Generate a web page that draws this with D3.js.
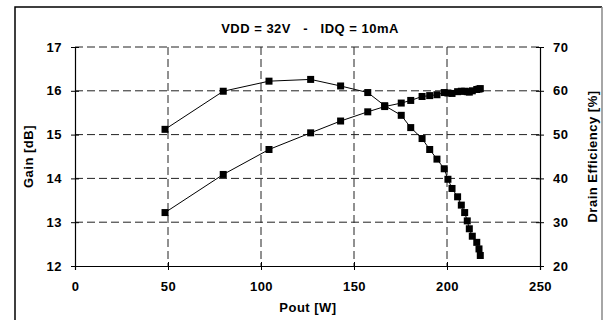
<!DOCTYPE html>
<html><head><meta charset="utf-8">
<script src="https://cdn.jsdelivr.net/npm/d3@7"></script>
<style>body{margin:0;background:#fff}svg{display:block;font-family:Arial,"Liberation Sans",sans-serif}</style>
</head><body><svg id="c" width="604" height="320"></svg>
<script>
const title = "VDD = 32V   -   IDQ = 10mA";
const pout = [48.4,79.7,104.3,126.7,142.8,157.4,166.5,175.4,180.5,186.6,190.7,194.6,198.5,200.5,202.7,205.7,207.7,209.5,210.9,212,213.6,216,217.2,217.9];
const gain = [15.12,15.99,16.22,16.26,16.11,15.96,15.66,15.44,15.16,14.91,14.66,14.44,14.22,13.98,13.77,13.58,13.39,13.22,13.03,12.85,12.68,12.54,12.39,12.24];
const eff = [32.2,40.9,46.6,50.4,53.1,55.2,56.4,57.2,57.8,58.7,58.9,59.1,59.6,59.5,59.4,59.8,59.9,59.9,59.8,59.7,60.0,60.3,60.4,60.5];
const xTicks = [0,50,100,150,200,250];
const gainTicks = [12,13,14,15,16,17];
const effTicks = [20,30,40,50,60,70];

const svg = d3.select("#c");
const L=75,R=540,T=47,B=266;
const FS=13, LS="0.5px";
const x = d3.scaleLinear().domain([0,250]).range([L,R]);
const yL = d3.scaleLinear().domain([12,17]).range([B,T]);
const yR = d3.scaleLinear().domain([20,70]).range([B,T]);

// border
svg.append("path").attr("d",`M15,330V7H602`).attr("fill","none").attr("stroke","#000").attr("stroke-width",1.5);
svg.append("line").attr("x1",602).attr("x2",602).attr("y1",7).attr("y2",330).attr("stroke","#888").attr("stroke-width",1.5);

// gridlines
const g = svg.append("g").attr("stroke","#222").attr("stroke-dasharray","8,4").attr("stroke-width",1);
gainTicks.slice(1).forEach(v=>g.append("line").attr("x1",L).attr("x2",R).attr("y1",yL(v)).attr("y2",yL(v)));
xTicks.slice(1,-1).forEach(v=>g.append("line").attr("y1",T).attr("y2",B).attr("x1",x(v)).attr("x2",x(v)));

// axes
const axB = svg.append("g").attr("transform",`translate(0,${B})`).call(d3.axisBottom(x).tickValues(xTicks).tickFormat(d3.format("d")).tickSize(4).tickPadding(12));
const axL = svg.append("g").attr("transform",`translate(${L},0)`).call(d3.axisLeft(yL).tickValues(gainTicks).tickFormat(d3.format("d")).tickSize(4).tickPadding(9));
const axR = svg.append("g").attr("transform",`translate(${R},0)`).call(d3.axisRight(yR).tickValues(effTicks).tickFormat(d3.format("d")).tickSize(4).tickPadding(9));
[axB,axL,axR].forEach(a=>{a.select(".domain").attr("stroke","#000").attr("stroke-width",1.2);
  a.selectAll(".tick line").attr("stroke","#000");
  a.selectAll("text").attr("font-size",FS).attr("font-weight","bold").attr("fill","#000").attr("letter-spacing",LS).attr("font-family","Arial, Liberation Sans, sans-serif");});
axB.selectAll(".tick line").attr("y1",-4);
axL.selectAll(".tick line").attr("x1",4);
axR.selectAll(".tick line").attr("x1",-4);

// series
const lineG = d3.line().x((d,i)=>x(pout[i])).y(d=>yL(d));
const lineE = d3.line().x((d,i)=>x(pout[i])).y(d=>yR(d));
svg.append("path").attr("d",lineG(gain)).attr("fill","none").attr("stroke","#000").attr("stroke-width",1);
svg.append("path").attr("d",lineE(eff)).attr("fill","none").attr("stroke","#000").attr("stroke-width",1);
const s=7;
svg.append("g").selectAll("rect").data(gain).join("rect")
  .attr("x",(d,i)=>x(pout[i])-s/2).attr("y",d=>yL(d)-s/2).attr("width",s).attr("height",s).attr("fill","#000");
svg.append("g").selectAll("rect").data(eff).join("rect")
  .attr("x",(d,i)=>x(pout[i])-s/2).attr("y",d=>yR(d)-s/2).attr("width",s).attr("height",s).attr("fill","#000");

// labels
function lab(t){return t.attr("font-size",FS).attr("font-weight","bold").attr("letter-spacing",LS).attr("text-anchor","middle");}
lab(svg.append("text").attr("x",310).attr("y",33)).text(title.replace(/ /g,"\u00a0"));
lab(svg.append("text").attr("x",(L+R)/2+0.5).attr("y",312)).text("Pout [W]");
lab(svg.append("text").attr("transform",`translate(33,${(T+B)/2}) rotate(-90)`)).text("Gain [dB]");
lab(svg.append("text").attr("transform",`translate(597,${(T+B)/2}) rotate(-90)`)).text("Drain Efficiency [%]");
</script></body></html>
